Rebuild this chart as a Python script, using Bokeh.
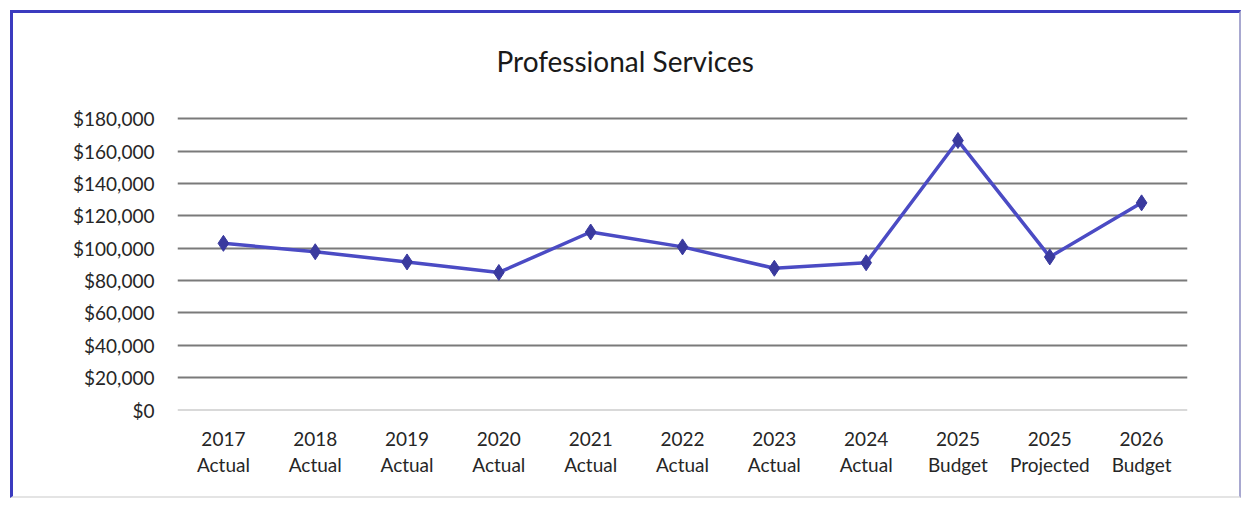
from bokeh.plotting import figure
from bokeh.models import FactorRange, Range1d, NumeralTickFormatter, FixedTicker, Span
from bokeh.embed import file_html
from bokeh.resources import INLINE

# ---- data ----
years = ["2017", "2018", "2019", "2020", "2021", "2022", "2023", "2024", "2025", "2025", "2026"]
kinds = ["Actual", "Actual", "Actual", "Actual", "Actual", "Actual", "Actual", "Actual",
         "Budget", "Projected", "Budget"]
values = [103000, 97800, 91500, 85000, 110000, 100800, 87600, 91000, 166500, 94600, 128000]
y_ticks = [0, 20000, 40000, 60000, 80000, 100000, 120000, 140000, 160000, 180000]

categories = [f"{y}\n{k}" for y, k in zip(years, kinds)]

FONT = "Lato"
LINE_COLOR = "#4b4bc4"
MARKER_COLOR = "#3a3a9e"

p = figure(width=1231, height=488, x_range=FactorRange(*categories),
           y_range=Range1d(-1500, 190000), output_backend="svg",
           toolbar_location=None, title="Professional Services",
           min_border_left=164, min_border_right=57,
           min_border_top=89, min_border_bottom=89)
p.margin = (10, 0, 0, 10)
p.styles = {"border-left": "3px solid #3b3bbf", "border-top": "3px solid #3b3bbf",
            "border-right": "2px solid #a8a8d0", "border-bottom": "2px solid #e4e4e4"}

p.background_fill_color = "white"
p.border_fill_color = "white"
p.outline_line_color = None

p.title.align = "left"
p.title.offset = 319
p.title.text_font = FONT
p.title.text_font_style = "normal"
p.title.text_font_size = "28px"
p.title.text_color = "#1a1a1a"
p.title.standoff = 50

# grid
p.xgrid.grid_line_color = None
p.ygrid.ticker = FixedTicker(ticks=y_ticks[1:])
p.ygrid.grid_line_color = "#7a7a7a"
p.ygrid.grid_line_width = 2
p.add_layout(Span(location=0, dimension="width", line_color="#d9d9d9", line_width=2))

# axes
p.yaxis.ticker = FixedTicker(ticks=y_ticks)
p.yaxis.formatter = NumeralTickFormatter(format="$0,0")
p.yaxis.axis_line_color = None
p.yaxis.major_tick_line_color = None
p.yaxis.minor_tick_line_color = None
p.yaxis.major_label_text_font = FONT
p.yaxis.major_label_text_font_size = "19px"
p.yaxis.major_label_text_color = "#262626"
p.yaxis.major_label_standoff = 17

p.xaxis.axis_line_color = None
p.xaxis.major_tick_line_color = None
p.xaxis.major_label_text_font = FONT
p.xaxis.major_label_text_font_size = "19px"
p.xaxis.major_label_text_color = "#262626"
p.xaxis.major_label_standoff = 8
p.xaxis.major_label_text_line_height = 1.15

# series
p.line(categories, values, line_color=LINE_COLOR, line_width=3.5)
p.scatter(categories, values, marker="diamond", size=16, fill_color=MARKER_COLOR,
          line_color=MARKER_COLOR)

open("out.html", "w").write(file_html(p, INLINE))
